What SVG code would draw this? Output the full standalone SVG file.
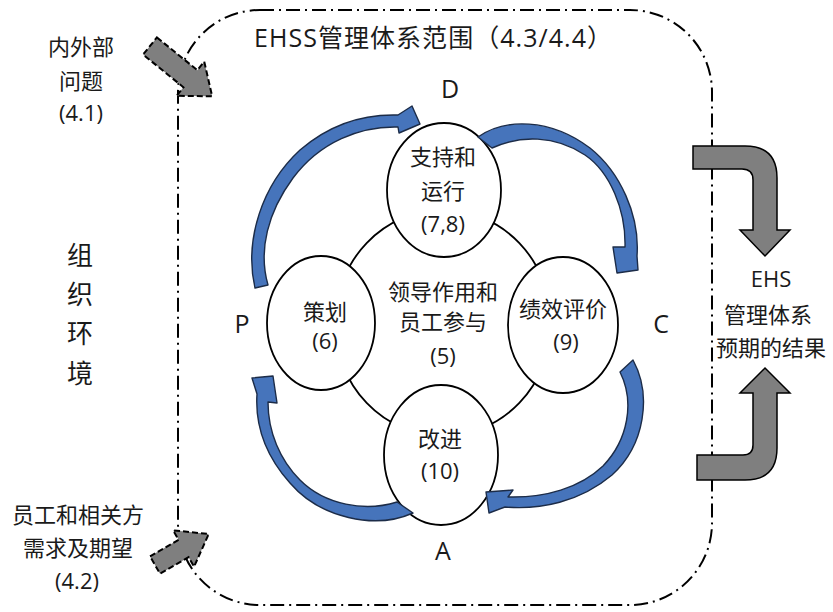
<svg xmlns="http://www.w3.org/2000/svg" width="833" height="612" viewBox="0 0 833 612">
<style>
text{font-family:"Open Sans","Noto Sans CJK SC",sans-serif;fill:#1a1a1a;text-anchor:middle}
.t22{font-size:22px}
.lbl{font-size:25px}
.big{font-size:26px}
.node{fill:#fff;stroke:#000;stroke-width:1.8}
.blue{fill:#4674bb;stroke:#1c2c48;stroke-width:1.4;stroke-linejoin:round}
.grey{fill:#7f7f7f;stroke:#000;stroke-width:1.5;stroke-linejoin:miter}
.greyd{fill:#7f7f7f;stroke:#000;stroke-width:2;stroke-dasharray:6,3}
</style>
<rect width="833" height="612" fill="#fff"/>
<g id="border">
<rect x="178" y="10" width="534" height="595" rx="82" ry="82" fill="none" stroke="#000" stroke-width="2" stroke-dasharray="14,5,2,5"/>
<text x="433" y="47" style="font-size:25px" textLength="358" lengthAdjust="spacing">EHSS管理体系范围（4.3/4.4）</text>
</g>
<g id="context">
<text class="t22" x="81" y="55">内外部</text>
<text class="t22" x="81" y="89">问题</text>
<text class="t22" x="81" y="121">(4.1)</text>
<text class="big" x="80" y="265">组</text>
<text class="big" x="80" y="304">织</text>
<text class="big" x="80" y="343">环</text>
<text class="big" x="80" y="383">境</text>
<text class="t22" x="78" y="523">员工和相关方</text>
<text class="t22" x="78" y="556">需求及期望</text>
<text class="t22" x="77" y="589">(4.2)</text>
<text class="t22" x="771" y="287">EHS</text>
<text class="t22" x="768" y="323">管理体系</text>
<text class="t22" x="771" y="356">预期的结果</text>
</g>
<g id="node-leadership">
<ellipse class="node" cx="443" cy="323" rx="108" ry="113"/>
<text class="t22" x="443" y="300">领导作用和</text>
<text class="t22" x="443" y="330">员工参与</text>
<text class="t22" x="443" y="364">(5)</text>
</g>
<g id="node-support">
<ellipse class="node" cx="444" cy="190" rx="57" ry="67"/>
<text class="t22" x="443" y="165">支持和</text>
<text class="t22" x="443" y="199">运行</text>
<text class="t22" x="443" y="232">(7,8)</text>
</g>
<g id="node-plan">
<ellipse class="node" cx="321" cy="323" rx="54" ry="67"/>
<text class="t22" x="325" y="320">策划</text>
<text class="t22" x="325" y="349">(6)</text>
</g>
<g id="node-eval">
<ellipse class="node" cx="563" cy="325" rx="55" ry="68"/>
<text class="t22" x="563" y="317">绩效评价</text>
<text class="t22" x="566" y="350">(9)</text>
</g>
<g id="node-improve">
<ellipse class="node" cx="441" cy="455" rx="57" ry="70"/>
<text class="t22" x="440" y="447">改进</text>
<text class="t22" x="440" y="479">(10)</text>
</g>
<g id="pdca-labels">
<text class="lbl" x="450" y="98">D</text>
<text class="lbl" x="242" y="333">P</text>
<text class="lbl" x="661" y="333">C</text>
<text class="lbl" x="443" y="560">A</text>
</g>
<g id="connectors">
<path class="blue" d="M255,288 C244,240 262,185 300,150 C330,124 365,114 398,115 L412,106 L420,124 L399,133 L398,127 C360,126 320,142 293,178 C268,212 258,250 268,285 Z"/>
<path class="blue" d="M478,137 C505,118 550,118 590,148 C620,172 640,215 637,256 L638,270 L617,273 L613,247 L625,247 C626,210 610,172 585,155 C555,135 520,135 492,148 Z"/>
<path class="blue" d="M633,360 C652,395 645,445 612,475 C580,502 540,510 505,507 L489,513 L486,492 L513,490 L508,497 C545,498 580,488 603,466 C628,440 635,402 620,372 Z"/>
<path class="blue" d="M413,513 C375,530 320,518 290,483 C265,455 255,425 257,394 L252,378 L273,376 L277,403 L268,402 C268,432 280,460 300,480 C325,505 365,512 397,502 Z"/>
<path class="greyd" transform="translate(150,46) rotate(39)" d="M0,-11 L52,-11 L52,-22 L80,0 L52,22 L52,11 L0,11 Z"/>
<path class="greyd" transform="translate(155,565) rotate(-30)" d="M0,-10 L33,-10 L33,-21 L62,0 L33,21 L33,10 L0,10 Z"/>
<path class="grey" d="M693,146 L745,146 Q777,146 777,178 L777,230 L790,230 L765,256 L740,230 L753,230 L753,180 Q753,169 742,169 L693,169 Z"/>
<path class="grey" d="M697,455 L743,455 Q753,455 753,445 L753,393 L740,393 L765,368 L790,393 L777,393 L777,448 Q777,480 745,480 L697,480 Z"/>
</g>
</svg>
